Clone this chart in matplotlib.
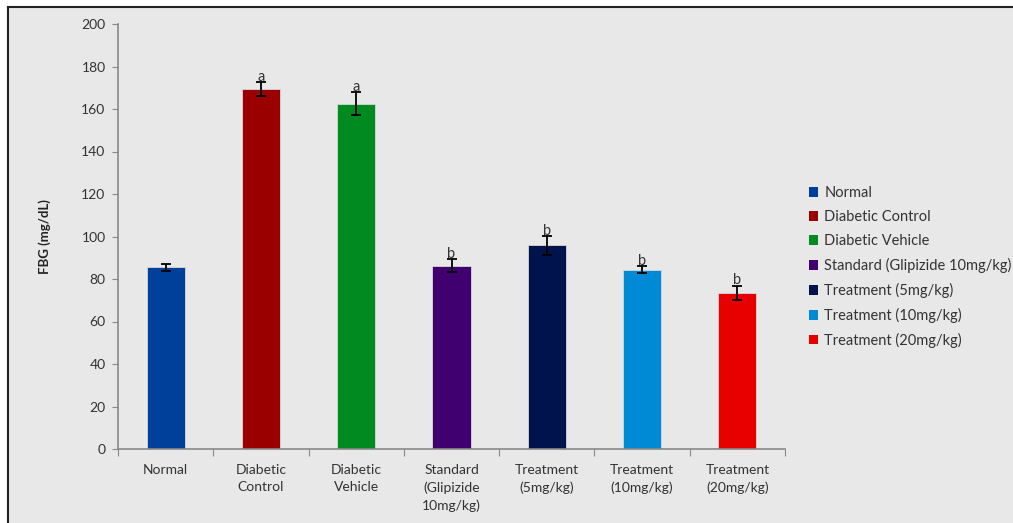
import matplotlib
matplotlib.use("Agg")
import matplotlib.pyplot as plt
from matplotlib.patches import Patch
from matplotlib.lines import Line2D

groups = ["Normal", "Diabetic Control", "Diabetic Vehicle",
          "Standard (Glipizide 10mg/kg)", "Treatment (5mg/kg)",
          "Treatment (10mg/kg)", "Treatment (20mg/kg)"]
tick_labels = ["Normal", "Diabetic\nControl", "Diabetic\nVehicle",
               "Standard\n(Glipizide\n10mg/kg)", "Treatment\n(5mg/kg)",
               "Treatment\n(10mg/kg)", "Treatment\n(20mg/kg)"]
fbg = [85.6, 169.3, 162.5, 86.2, 95.8, 84.4, 73.4]
sem = [1.6, 3.3, 5.3, 3.0, 4.3, 1.7, 3.5]
letters = ["", "a", "a", "b", "b", "b", "b"]
colors = ["#00409a", "#9a0000", "#008a20", "#400070", "#00134d", "#008ad6", "#e60000"]

BG = "#e8e8e8"
FONT = ["Lato", "DejaVu Sans"]
plt.rcParams["font.family"] = FONT

fig = plt.figure(figsize=(10.13, 5.23), dpi=100, facecolor="white")
# grey panel with a dark frame on its left and top edges
fig.add_artist(plt.Rectangle((8 / 1013, 0), 1, 1 - 7 / 523, transform=fig.transFigure,
                             facecolor=BG, edgecolor="none", zorder=-10))
fig.add_artist(Line2D([8 / 1013, 8 / 1013], [0, 1 - 7 / 523], transform=fig.transFigure,
                      color="#222222", lw=1.5, zorder=-5))
fig.add_artist(Line2D([8 / 1013, 1], [1 - 7 / 523, 1 - 7 / 523], transform=fig.transFigure,
                      color="#222222", lw=1.5, zorder=-5))

ax = fig.add_axes([118 / 1013, 1 - 449 / 523, (785 - 118) / 1013, (449 - 24) / 523])
ax.set_facecolor(BG)
x = list(range(len(groups)))
bars = ax.bar(x, fbg, width=0.4, color=colors, edgecolor="#d8d8d8", linewidth=0.6, zorder=2)
ax.errorbar(x, fbg, yerr=sem, fmt="none", ecolor="black", elinewidth=1.3,
            capsize=3.5, capthick=1.3, zorder=3)
for xi, v, e, t in zip(x, fbg, sem, letters):
    if t:
        ax.text(xi, v + e - 0.8, t, ha="center", va="bottom", fontsize=10.5, color="#333333")

ax.set_xlim(-0.5, len(groups) - 0.5)
ax.set_ylim(0, 200)
ax.set_yticks(range(0, 201, 20))
ax.tick_params(axis="y", labelsize=10, colors="#333333", length=4, color="#888888", pad=5)
ax.set_xticks([i - 0.5 for i in range(len(groups) + 1)], minor=False)
ax.set_xticklabels([])
ax.set_xticks(x, minor=True)
ax.set_xticklabels(tick_labels, minor=True, fontsize=10, color="#333333", linespacing=1.5)
ax.tick_params(axis="x", which="major", length=5, color="#888888")
ax.tick_params(axis="x", which="minor", length=0, pad=11)
for s in ["top", "right"]:
    ax.spines[s].set_visible(False)
for s in ["left", "bottom"]:
    ax.spines[s].set_color("#888888")
    ax.spines[s].set_linewidth(1.2)
ax.set_ylabel("FBG (mg/dL)", fontsize=9.5, fontweight="bold", color="#222222", labelpad=22)

handles = [Patch(facecolor=c, edgecolor="none", label=g) for c, g in zip(colors, groups)]
leg = fig.legend(handles=handles, loc="upper left", bbox_to_anchor=(809 / 1013, 1 - 186 / 523),
                 frameon=False, fontsize=10.5, handlelength=0.65, handleheight=0.65,
                 handletextpad=0.4, labelspacing=0.68, borderaxespad=0, borderpad=0)
for t in leg.get_texts():
    t.set_color("#333333")

fig.savefig("out.png", dpi=100, facecolor="white")
